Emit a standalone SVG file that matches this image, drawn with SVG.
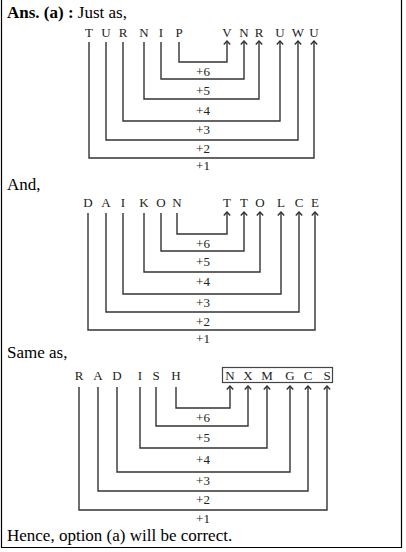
<svg xmlns="http://www.w3.org/2000/svg" width="406" height="552" viewBox="0 0 406 552">
<style>
.t{font-family:"Liberation Serif","Times New Roman",serif;font-size:17px;fill:#000}
.b{font-weight:bold}
.l{font-family:"Liberation Serif","Times New Roman",serif;font-size:13px;fill:#222;text-anchor:middle}
.n{font-family:"Liberation Serif","Times New Roman",serif;font-size:13px;fill:#222;text-anchor:middle}
.c{fill:none;stroke:#333;stroke-width:1.4}
.a{marker-end:url(#ah)}
</style>
<defs>
<marker id="ah" viewBox="0 0 10 10" refX="5" refY="1" markerWidth="10" markerHeight="10" markerUnits="userSpaceOnUse" orient="0">
<polyline points="1.8,4.5 5,1 8.2,4.5" fill="none" stroke="#333" stroke-width="1.4"/>
</marker>
</defs>
<rect width="406" height="552" fill="#fff"/>
<path d="M1.5,-1 V547.5 H401.5 V-1" fill="none" stroke="#000" stroke-width="1.2"/>

<g id="text">
<text class="t" x="7" y="18"><tspan class="b">Ans. (a) :</tspan> Just as,</text>
<text class="t" x="7" y="190">And,</text>
<text class="t" x="7" y="358">Same as,</text>
<text class="t" x="7" y="541">Hence, option (a) will be correct.</text>
</g>

<g id="word1">
<text class="l" x="89" y="37">T</text><text class="l" x="106" y="37">U</text><text class="l" x="123" y="37">R</text><text class="l" x="144" y="37">N</text><text class="l" x="161" y="37">I</text><text class="l" x="179" y="37">P</text>
<text class="l" x="227" y="37">V</text><text class="l" x="244" y="37">N</text><text class="l" x="259" y="37">R</text><text class="l" x="280" y="37">U</text><text class="l" x="298" y="37">W</text><text class="l" x="314" y="37">U</text>
</g>
<g id="labels1">
<text class="n" x="203" y="76">+6</text><text class="n" x="203" y="95">+5</text><text class="n" x="203" y="115">+4</text><text class="n" x="203" y="134">+3</text><text class="n" x="203" y="153">+2</text><text class="n" x="203" y="170">+1</text>
</g>

<g id="word2">
<text class="l" x="88" y="207">D</text><text class="l" x="106" y="207">A</text><text class="l" x="123" y="207">I</text><text class="l" x="144" y="207">K</text><text class="l" x="161" y="207">O</text><text class="l" x="177" y="207">N</text>
<text class="l" x="227" y="207">T</text><text class="l" x="244" y="207">T</text><text class="l" x="260" y="207">O</text><text class="l" x="281" y="207">L</text><text class="l" x="299" y="207">C</text><text class="l" x="315" y="207">E</text>
</g>
<g id="labels2">
<text class="n" x="203" y="248">+6</text><text class="n" x="203" y="266">+5</text><text class="n" x="203" y="286">+4</text><text class="n" x="203" y="307">+3</text><text class="n" x="203" y="326">+2</text><text class="n" x="203" y="343">+1</text>
</g>

<g id="word3">
<text class="l" x="79" y="380">R</text><text class="l" x="98" y="380">A</text><text class="l" x="117" y="380">D</text><text class="l" x="140" y="380">I</text><text class="l" x="156" y="380">S</text><text class="l" x="176" y="380">H</text>
<rect x="222.5" y="367.5" width="110" height="15" fill="none" stroke="#444" stroke-width="1.2"/>
<text class="l" x="230" y="380">N</text><text class="l" x="248" y="380">X</text><text class="l" x="267" y="380">M</text><text class="l" x="290" y="380">G</text><text class="l" x="308" y="380">C</text><text class="l" x="327" y="380">S</text>
</g>
<g id="labels3">
<text class="n" x="203" y="422">+6</text><text class="n" x="203" y="442">+5</text><text class="n" x="203" y="464">+4</text><text class="n" x="203" y="485">+3</text><text class="n" x="203" y="504">+2</text><text class="n" x="203" y="523">+1</text>
</g>

<g id="connectors">
<path class="c a" d="M179,42 V62 H227 V41"/>
<path class="c a" d="M161,42 V79 H244 V41"/>
<path class="c a" d="M144,42 V99 H259 V41"/>
<path class="c a" d="M123,42 V121 H280 V41"/>
<path class="c a" d="M106,42 V140 H298 V41"/>
<path class="c a" d="M89,42 V158 H314 V41"/>

<path class="c a" d="M177,213 V234 H227 V212"/>
<path class="c a" d="M161,213 V251 H244 V212"/>
<path class="c a" d="M144,213 V272 H260 V212"/>
<path class="c a" d="M123,213 V294 H281 V212"/>
<path class="c a" d="M106,213 V312 H299 V212"/>
<path class="c a" d="M88,213 V330 H315 V212"/>

<path class="c a" d="M176,387 V408 H230 V386"/>
<path class="c a" d="M156,387 V426 H248 V386"/>
<path class="c a" d="M140,387 V448 H267 V386"/>
<path class="c a" d="M117,387 V472 H290 V386"/>
<path class="c a" d="M98,387 V491 H308 V386"/>
<path class="c a" d="M79,387 V510 H327 V386"/>
</g>
</svg>
